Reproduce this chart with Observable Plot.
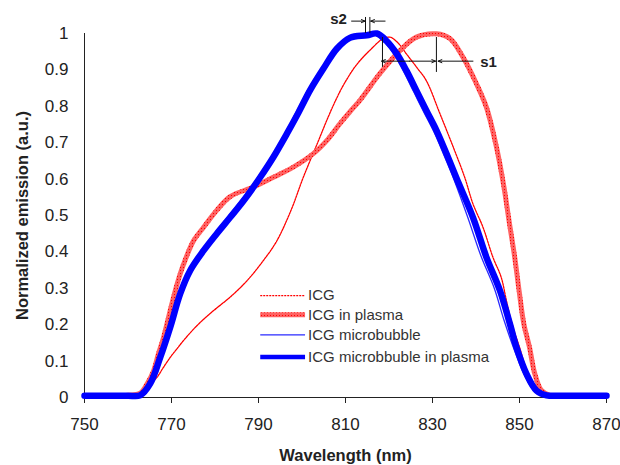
<!DOCTYPE html>
<html><head><meta charset="utf-8">
<script src="https://cdn.jsdelivr.net/npm/d3@7"></script>
<script src="https://cdn.jsdelivr.net/npm/@observablehq/plot@0.6"></script>
<style>
body{margin:0;background:#fff}
#chart svg{font-family:"Liberation Sans",Arial,sans-serif}
</style>
</head><body><div id="chart"></div>
<script>
// ---- data ----
const wavelengthTicks = [750, 770, 790, 810, 830, 850, 870];
const emissionTicks = [0, 0.1, 0.2, 0.3, 0.4, 0.5, 0.6, 0.7, 0.8, 0.9, 1];
const emissionTickLabels = ["0", "0.1", "0.2", "0.3", "0.4", "0.5", "0.6", "0.7", "0.8", "0.9", "1"];
const seriesNames = ["ICG", "ICG in plasma", "ICG microbubble", "ICG microbbuble in plasma"];

const icgX = [750,755,760,762,763.6,765,766.7,768,769.7,771,772.8,775.9,779.7,783.5,787.3,791.1,794.2,797.6,800.3,803.8,806,807.8,809.7,812.6,816.3,818.5,820.2,822,824,826.5,828.6,831.7,834.7,837.4,839.3,841.6,843.9,845.8,847,848.1,850,852.3,854.6,856,860,865,870];
const icgY = [0.005,0.004,0.006,0.008,0.02,0.035,0.056,0.08,0.11,0.13,0.157,0.198,0.239,0.276,0.32,0.376,0.43,0.518,0.605,0.706,0.77,0.818,0.862,0.915,0.962,0.985,0.99,0.975,0.944,0.905,0.87,0.78,0.69,0.605,0.532,0.468,0.385,0.33,0.266,0.21,0.138,0.056,0.02,0.008,0.005,0.004,0.005];

const plasmaX = [750,755,760,762.8,764.5,765.9,767,768.2,769.7,771.3,772.8,775.1,777.4,780.4,783.5,788.8,793.4,798,802.6,806,808.7,811,813.3,817.9,822.5,826.3,830.9,834,837,840.1,842.4,844.7,846.4,847.6,848.9,849.9,851,852.3,853.5,855,857,860,865,870];
const plasmaY = [0.005,0.005,0.006,0.012,0.04,0.074,0.12,0.166,0.239,0.312,0.367,0.431,0.468,0.514,0.552,0.578,0.605,0.633,0.67,0.71,0.752,0.785,0.816,0.89,0.953,0.99,0.999,0.986,0.935,0.862,0.797,0.688,0.58,0.485,0.385,0.294,0.202,0.138,0.066,0.02,0.006,0.005,0.005,0.004];

const mbX = [750,755,760,762.5,764.8,767,769.3,771.6,774,777,780,783,786.2,790,793,796.1,798.8,801.5,804.5,807.6,810.6,814.5,816.8,819,821.3,823.5,825.8,828.1,830.4,832.7,835,838.1,841.1,844.2,846.5,848.9,851.2,853.5,856,860,865,870];
const mbY = [0.004,0.006,0.005,0.008,0.04,0.11,0.195,0.285,0.35,0.405,0.452,0.497,0.545,0.607,0.662,0.726,0.787,0.848,0.905,0.958,0.987,0.993,0.998,0.975,0.94,0.892,0.837,0.782,0.728,0.664,0.597,0.495,0.39,0.3,0.21,0.128,0.06,0.017,0.005,0.004,0.006,0.004];

const mbPlasmaX = [750,755,760,762.8,765.1,767.4,769.7,772,774.3,777.4,780.4,783.5,786.6,790.4,793.4,796.5,799.2,801.9,804.9,808,811,814.9,817.2,819.4,821.8,824,826.3,828.6,830.9,833.2,835.5,839.3,842.4,845.5,847.8,849.3,851.6,853.9,856.2,860,865,870];
const mbPlasmaY = [0.005,0.005,0.005,0.006,0.038,0.11,0.193,0.285,0.349,0.404,0.45,0.495,0.541,0.605,0.66,0.724,0.783,0.845,0.903,0.958,0.988,0.995,1.0,0.98,0.944,0.898,0.843,0.788,0.734,0.67,0.603,0.495,0.385,0.294,0.202,0.138,0.065,0.019,0.006,0.005,0.005,0.005];

// ---- layout constants (annotation / legend placement, data space) ----
const legendLineX = [790.4, 800.7];
const legendTextX = 801.4;
const legendRowY = [0.280, 0.227, 0.172, 0.111];

const rows = (xs, ys) => xs.map((x, i) => ({x, y: ys[i]}));

function defsMark() {
  const ns = "http://www.w3.org/2000/svg";
  const defs = document.createElementNS(ns, "defs");
  defs.innerHTML = '<pattern id="hatch" width="3" height="3" patternUnits="userSpaceOnUse">' +
    '<rect width="3" height="3" fill="#ffc4c4"/>' +
    '<path d="M0,0L3,3M3,0L0,3" stroke="#ff0000" stroke-width="1"/></pattern>';
  return defs;
}

const font = {fill: "#222"};

const chart = Plot.plot({
  width: 620, height: 465,
  marginLeft: 84, marginRight: 14, marginTop: 33, marginBottom: 68,
  style: {fontFamily: '"Liberation Sans", Arial, sans-serif', fontSize: "17px", color: "#222", background: "#fff", overflow: "visible"},
  x: {domain: [750, 870]},
  y: {domain: [0, 1]},
  marks: [
    defsMark,
    Plot.ruleY([0], {stroke: "#222", strokeWidth: 1}),
    Plot.ruleX([750], {stroke: "#222", strokeWidth: 1}),
    Plot.axisX({ticks: wavelengthTicks, tickSize: 6, tickPadding: 14, label: null, stroke: "#222", ...font}),
    Plot.axisY({ticks: emissionTicks, tickSize: 0, tickPadding: 16, label: null, tickFormat: (d, i) => emissionTickLabels[i], ...font}),
    Plot.line(rows(icgX, icgY), {x: "x", y: "y", stroke: "#ff0000", strokeWidth: 1.3, strokeDasharray: "2,1", curve: "catmull-rom"}),
    Plot.line(rows(plasmaX, plasmaY), {x: "x", y: "y", stroke: "url(#hatch)", strokeWidth: 5, curve: "catmull-rom"}),
    Plot.line(rows(mbX, mbY), {x: "x", y: "y", stroke: "#2a2aff", strokeWidth: 1.3, curve: "catmull-rom"}),
    Plot.line(rows(mbPlasmaX, mbPlasmaY), {x: "x", y: "y", stroke: "#0000ff", strokeWidth: 6.5, curve: "catmull-rom"}),
    // legend
    Plot.link([seriesNames[0]], {x1: legendLineX[0], x2: legendLineX[1], y1: legendRowY[0], y2: legendRowY[0], stroke: "#ff0000", strokeWidth: 1.3, strokeDasharray: "2,1"}),
    Plot.link([seriesNames[1]], {x1: legendLineX[0], x2: legendLineX[1], y1: legendRowY[1], y2: legendRowY[1], stroke: "url(#hatch)", strokeWidth: 5}),
    Plot.link([seriesNames[2]], {x1: legendLineX[0], x2: legendLineX[1], y1: legendRowY[2], y2: legendRowY[2], stroke: "#2a2aff", strokeWidth: 1.3}),
    Plot.link([seriesNames[3]], {x1: legendLineX[0], x2: legendLineX[1], y1: legendRowY[3], y2: legendRowY[3], stroke: "#0000ff", strokeWidth: 4.5}),
    Plot.text(seriesNames, {x: legendTextX, y: (d, i) => legendRowY[i], text: d => d, textAnchor: "start", fontSize: 15, fill: "#333"}),
    // s2 annotation
    Plot.ruleX([814.6, 815.6], {y1: 1.0, y2: 1.044, stroke: "#111", strokeWidth: 1}),
    Plot.arrow([{a: 811.4, b: 814.5}, {a: 819.1, b: 815.8}], {x1: "a", x2: "b", y1: 1.034, y2: 1.034, stroke: "#111", strokeWidth: 1, headLength: 6, headAngle: 45}),
    Plot.text(["s2"], {x: 808.4, y: 1.039, text: d => d, fontWeight: "bold", fontSize: 15, fill: "#222"}),
    // s1 annotation
    Plot.ruleX([818.5], {y1: 0.907, y2: 0.989, stroke: "#111", strokeWidth: 1}),
    Plot.ruleX([830.9], {y1: 0.893, y2: 0.989, stroke: "#111", strokeWidth: 1}),
    Plot.arrow([{a: 824.7, b: 818.3}, {a: 824.7, b: 830.7}, {a: 839.3, b: 831.3}], {x1: "a", x2: "b", y1: 0.924, y2: 0.924, stroke: "#111", strokeWidth: 1, headLength: 6, headAngle: 45}),
    Plot.text(["s1"], {x: 842.9, y: 0.921, text: d => d, fontWeight: "bold", fontSize: 15, fill: "#222"}),
    // axis titles
    Plot.text(["Wavelength (nm)"], {frameAnchor: "bottom", dy: 58, lineAnchor: "middle", textAnchor: "middle", text: d => d, fontWeight: "bold", fontSize: 16.5, fill: "#222"}),
    Plot.text(["Normalized emission (a.u.)"], {frameAnchor: "left", dx: -62, rotate: -90, lineAnchor: "middle", textAnchor: "middle", text: d => d, fontWeight: "bold", fontSize: 16.5, fill: "#222"})
  ]
});
document.getElementById("chart").appendChild(chart);
</script>
</body></html>
